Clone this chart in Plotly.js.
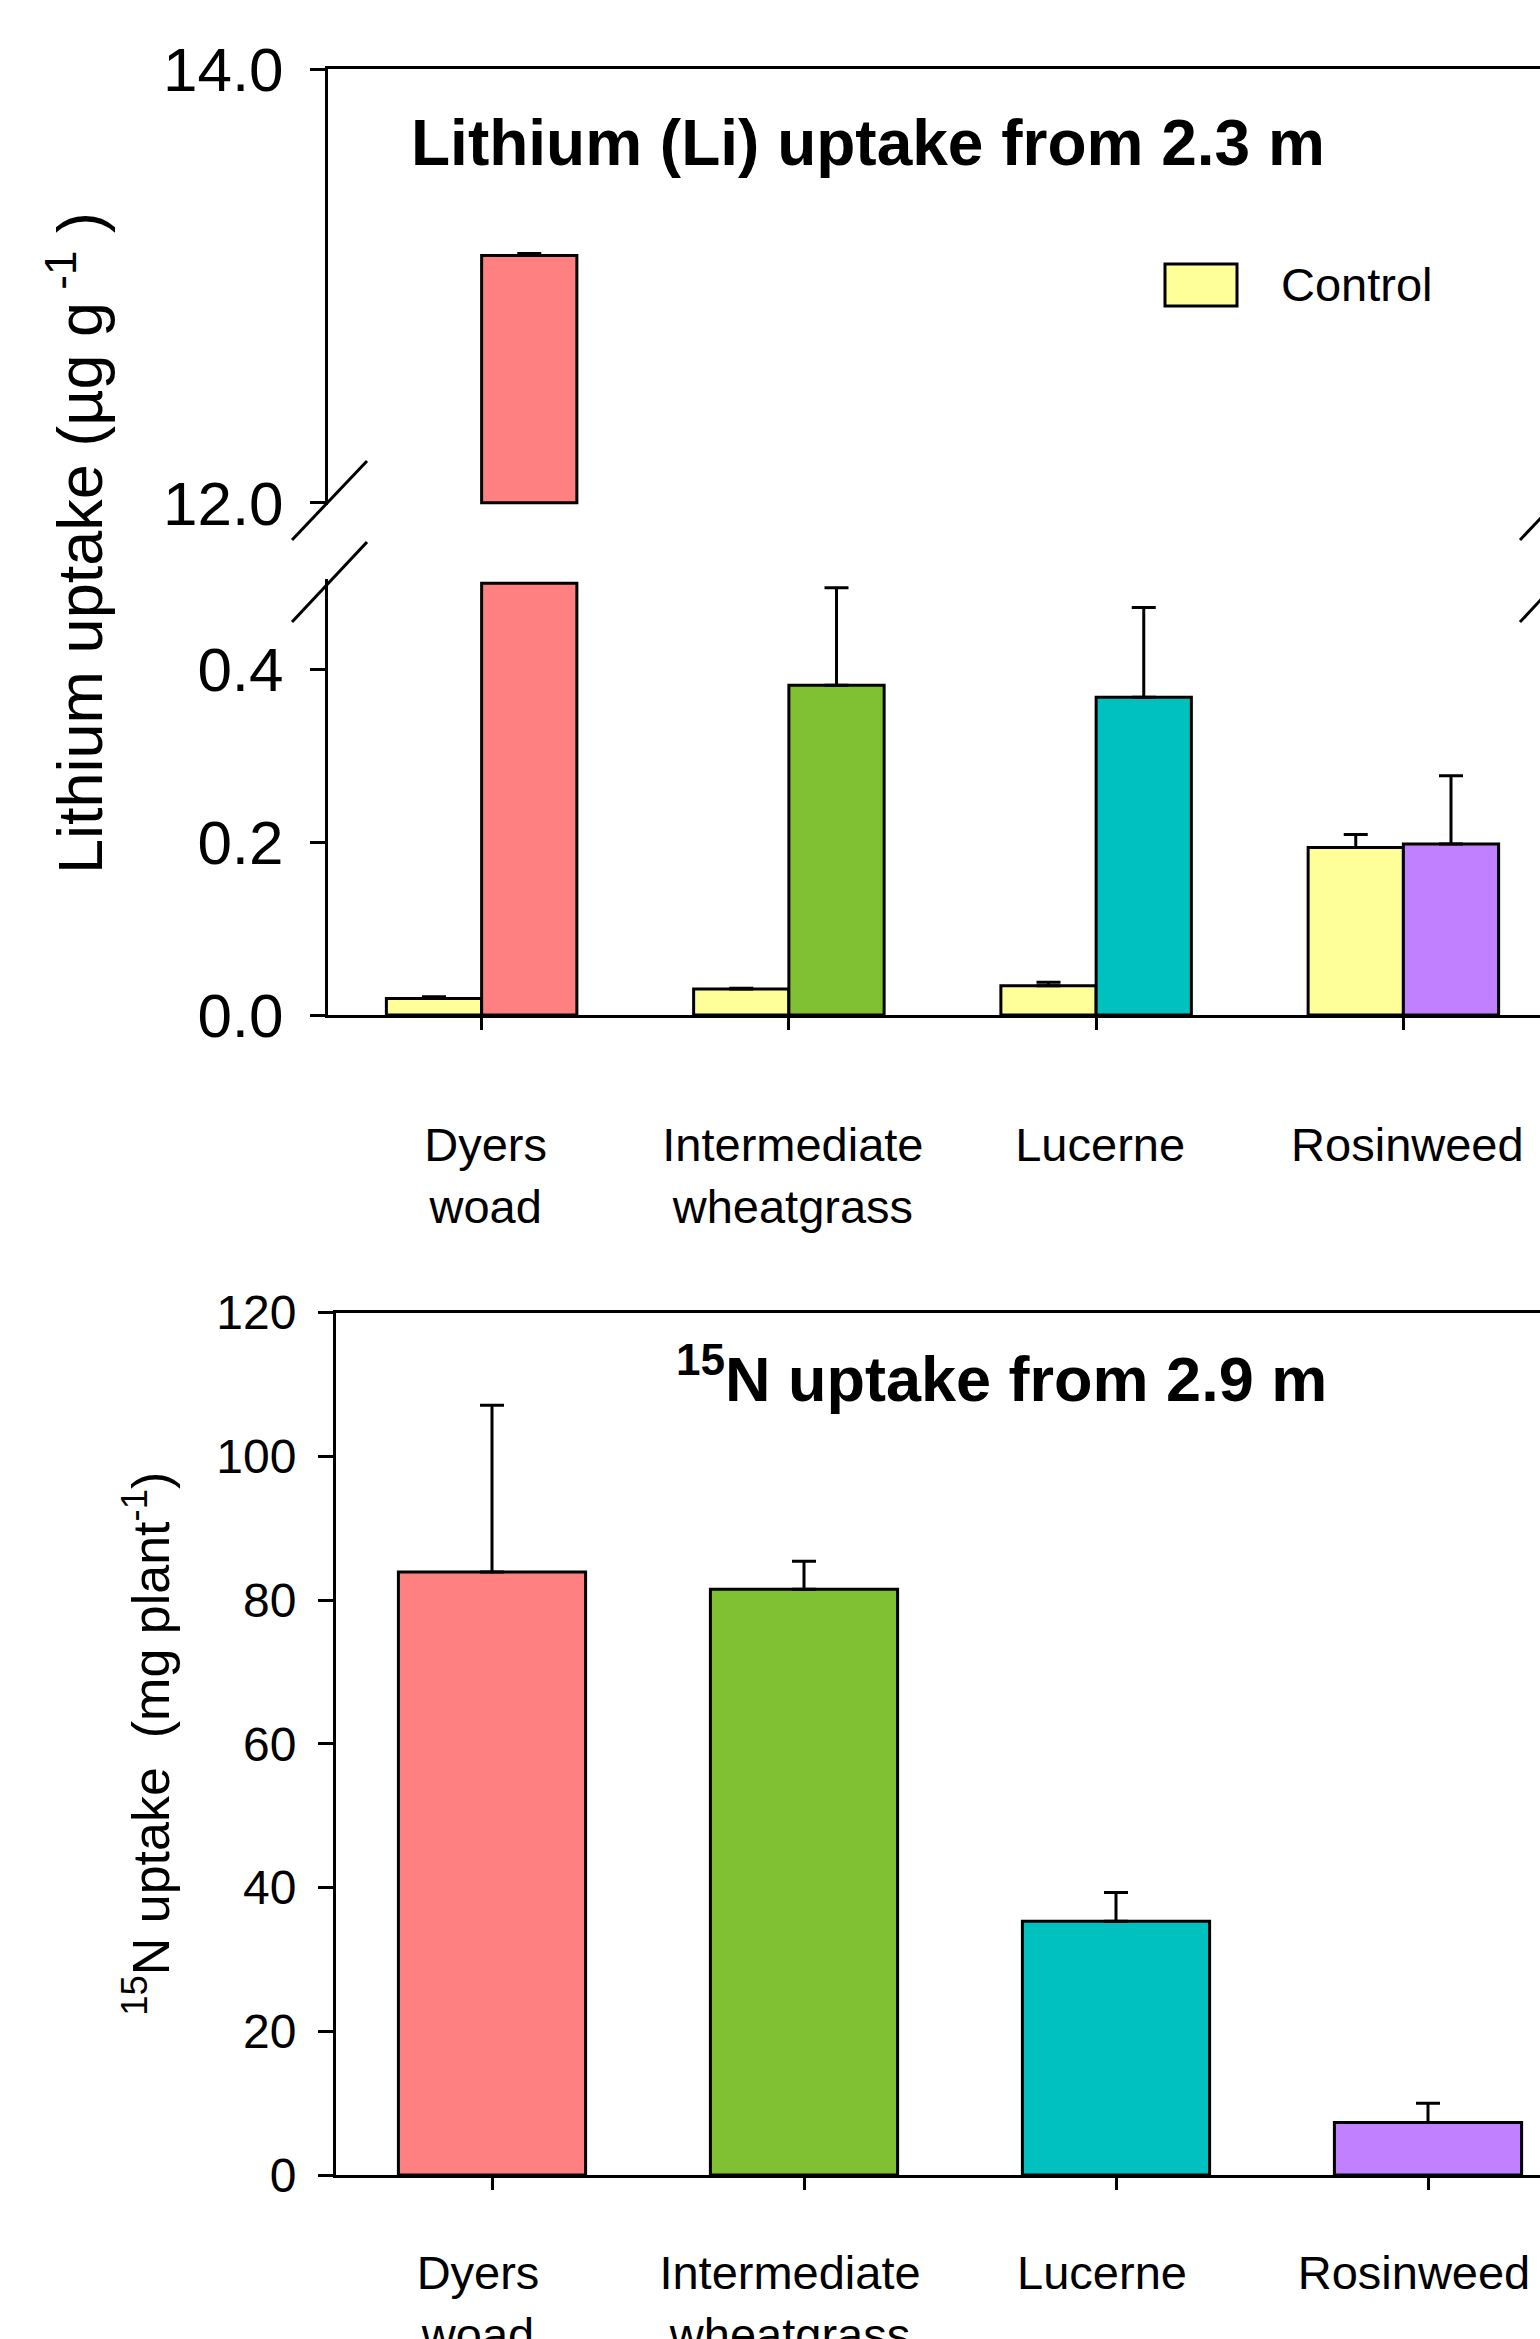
<!DOCTYPE html>
<html>
<head>
<meta charset="utf-8">
<script src="https://cdn.plot.ly/plotly-3.0.1.min.js"></script>
<style>
html, body { margin:0; padding:0; overflow:hidden; background:#fff; }
#chart { width:1600px; height:2339px; }
</style>
</head>
<body>
<div id="chart"></div>
<script>
// ---------------- data ----------------
const categories = ['Dyers woad', 'Intermediate wheatgrass', 'Lucerne', 'Rosinweed'];
const tickLabels = ['Dyers<br>woad', 'Intermediate<br>wheatgrass', 'Lucerne', 'Rosinweed'];

// Lithium uptake (ug g-1)
const liControl    = [0.019, 0.030, 0.034, 0.194];
const liControlErr = [0.002, 0.001, 0.004, 0.015];
const liTreated    = [13.14, 0.382, 0.368, 0.198];
const liTreatedErr = [0.01, 0.113, 0.104, 0.079];

// 15N uptake (mg plant-1)
const n15Uptake = [83.9, 81.5, 35.3, 7.3];
const n15Err    = [23.2, 3.9, 4.0, 2.7];

const liLowerTicks = [0, 0.2, 0.4];
const liUpperTicks = [12, 14];
const n15Ticks = [0, 20, 40, 60, 80, 100, 120];

// ---------------- styling ----------------
const controlColor = '#FFFF99';
const treatColors = ['#FF8080', '#7FC132', '#00C0C0', '#C080FF'];
const FONT = 'Liberation Sans, Arial, Helvetica, sans-serif';
const W = 1600, H = 2339;
const fx = p => p / W;
const fy = p => 1 - p / H;

// axis break settings
const LOWER_MAX = 0.5;     // lower segment ends here
const UPPER_MIN = 12;      // upper segment starts here

const lowerTreated = liTreated.map(v => Math.min(v, LOWER_MAX));
const lowerTreatedErr = liTreated.map((v, i) => v > LOWER_MAX ? NaN : liTreatedErr[i]);
const lowerTreatedErrMinus = liTreated.map(v => v > LOWER_MAX ? NaN : 0);
const upperTreated = liTreated.map(v => v > UPPER_MIN ? v - UPPER_MIN : null);
const upperTreatedErr = liTreated.map((v, i) => v > UPPER_MIN ? liTreatedErr[i] : NaN);
const upperTreatedErrMinus = liTreated.map(v => v > UPPER_MIN ? 0 : NaN);

const barLine = {color: '#000', width: 3};
const errStyle = (arr, minus) => ({type: 'data', symmetric: false, array: arr, arrayminus: minus,
  color: '#000', thickness: 3, width: 12});

const traces = [
  { type: 'bar', name: 'Control', x: categories, y: liControl, xaxis: 'x', yaxis: 'y',
    width: 0.31, offset: -0.31, marker: {color: controlColor, line: barLine},
    error_y: errStyle(liControlErr, liControl.map(() => 0)), showlegend: false },
  { type: 'bar', name: 'Li treatment', x: categories, y: lowerTreated, xaxis: 'x', yaxis: 'y',
    width: 0.31, offset: 0, marker: {color: treatColors, line: barLine},
    customdata: liTreated, hovertemplate: '%{x}: %{customdata}<extra></extra>',
    error_y: errStyle(lowerTreatedErr, lowerTreatedErrMinus), showlegend: false },
  { type: 'bar', name: 'Li treatment (upper)', x: categories, y: upperTreated, base: UPPER_MIN,
    xaxis: 'x2', yaxis: 'y2',
    width: 0.31, offset: 0, marker: {color: treatColors, line: barLine},
    error_y: errStyle(upperTreatedErr, upperTreatedErrMinus), showlegend: false },
  { type: 'bar', name: '15N uptake', x: categories, y: n15Uptake, xaxis: 'x3', yaxis: 'y3',
    width: 0.6, marker: {color: treatColors, line: barLine},
    error_y: errStyle(n15Err, n15Uptake.map(() => 0)), showlegend: false }
];

const baseAxis = {
  showline: true, linecolor: '#000', linewidth: 3, showgrid: false, zeroline: false,
  ticks: 'outside', tickcolor: '#000', tickwidth: 3
};

const layout = {
  width: W, height: H,
  margin: {l: 0, r: 0, t: 0, b: 0},
  paper_bgcolor: '#fff', plot_bgcolor: '#fff',
  font: {family: FONT, color: '#000'},
  barmode: 'overlay',
  showlegend: false,
  title: {
    text: '<b>Lithium (Li) uptake from 2.3 m</b>',
    font: {family: FONT, size: 64, color: '#000'},
    x: fx(411), xanchor: 'left', xref: 'paper',
    y: fy(143), yanchor: 'middle', yref: 'paper'
  },
  xaxis: Object.assign({}, baseAxis, {
    domain: [fx(328), fx(1557)], anchor: 'y', type: 'category', range: [-0.5, 3.5],
    tickvals: categories, ticktext: tickLabels, ticklen: 12,
    tickfont: {family: FONT, size: 47, color: '#000'}, ticklabelstandoff: 75, ticklabelshift: 4
  }),
  yaxis: Object.assign({}, baseAxis, {
    domain: [fy(1015), fy(579)], anchor: 'x', range: [0, 0.505],
    tickvals: liLowerTicks, tickformat: '.1f', ticklen: 15, mirror: true,
    tickfont: {family: FONT, size: 62, color: '#000'}, ticklabelstandoff: 14
  }),
  xaxis2: Object.assign({}, baseAxis, {
    domain: [fx(328), fx(1557)], anchor: 'y2', matches: 'x', side: 'top', type: 'category',
    range: [-0.5, 3.5], ticks: '', showticklabels: false
  }),
  yaxis2: Object.assign({}, baseAxis, {
    domain: [fy(505), fy(69)], anchor: 'x2', range: [11.99, 14],
    tickvals: liUpperTicks, tickformat: '.1f', ticklen: 15, mirror: true,
    tickfont: {family: FONT, size: 62, color: '#000'}, ticklabelstandoff: 14
  }),
  xaxis3: Object.assign({}, baseAxis, {
    domain: [fx(336), fx(1584)], anchor: 'y3', type: 'category', range: [-0.5, 3.5],
    tickvals: categories, ticktext: tickLabels, ticklen: 12, mirror: true,
    tickfont: {family: FONT, size: 47, color: '#000'}, ticklabelstandoff: 43, ticklabelshift: -14
  }),
  yaxis3: Object.assign({}, baseAxis, {
    domain: [fy(2175), fy(1312.5)], anchor: 'x3', range: [0, 120],
    tickvals: n15Ticks, ticklen: 15, mirror: true,
    tickfont: {family: FONT, size: 48, color: '#000'}, ticklabelstandoff: 12,
    title: {text: '<sup>15</sup>N uptake  (mg plant<sup>-1</sup>)',
            font: {family: FONT, size: 52, color: '#000'}, standoff: 31}
  }),
  annotations: [
    { xref: 'paper', yref: 'paper', x: fx(76), y: fy(543), xanchor: 'center', yanchor: 'middle',
      textangle: -90, showarrow: false,
      text: 'Lithium uptake (µg g<sup> -1</sup> )', font: {family: FONT, size: 63, color: '#000'} },
    { xref: 'paper', yref: 'paper', x: fx(1001), y: fy(1374), xanchor: 'center', yanchor: 'middle',
      showarrow: false, text: '<b><sup>15</sup>N uptake from 2.9 m</b>',
      font: {family: FONT, size: 63, color: '#000'} },
    { xref: 'paper', yref: 'paper', x: fx(1279), y: fy(285), xanchor: 'left', yanchor: 'middle',
      showarrow: false, text: 'Control', font: {family: FONT, size: 47, color: '#000'} }
  ],
  shapes: [
    // legend swatch
    { type: 'rect', xref: 'paper', yref: 'paper', x0: fx(1165), x1: fx(1237), y0: fy(306), y1: fy(264),
      fillcolor: controlColor, line: {color: '#000', width: 3} },
    // axis break marks (left)
    { type: 'line', xref: 'paper', yref: 'paper', x0: fx(292), y0: fy(540), x1: fx(367), y1: fy(461),
      line: {color: '#000', width: 3} },
    { type: 'line', xref: 'paper', yref: 'paper', x0: fx(292), y0: fy(622), x1: fx(367), y1: fy(542),
      line: {color: '#000', width: 3} },
    // axis break marks (right)
    { type: 'line', xref: 'paper', yref: 'paper', x0: fx(1520), y0: fy(540), x1: fx(1595), y1: fy(461),
      line: {color: '#000', width: 3} },
    { type: 'line', xref: 'paper', yref: 'paper', x0: fx(1520), y0: fy(622), x1: fx(1595), y1: fy(542),
      line: {color: '#000', width: 3} }
  ]
};

Plotly.newPlot('chart', traces, layout, {displayModeBar: false, staticPlot: true});
</script>
</body>
</html>
